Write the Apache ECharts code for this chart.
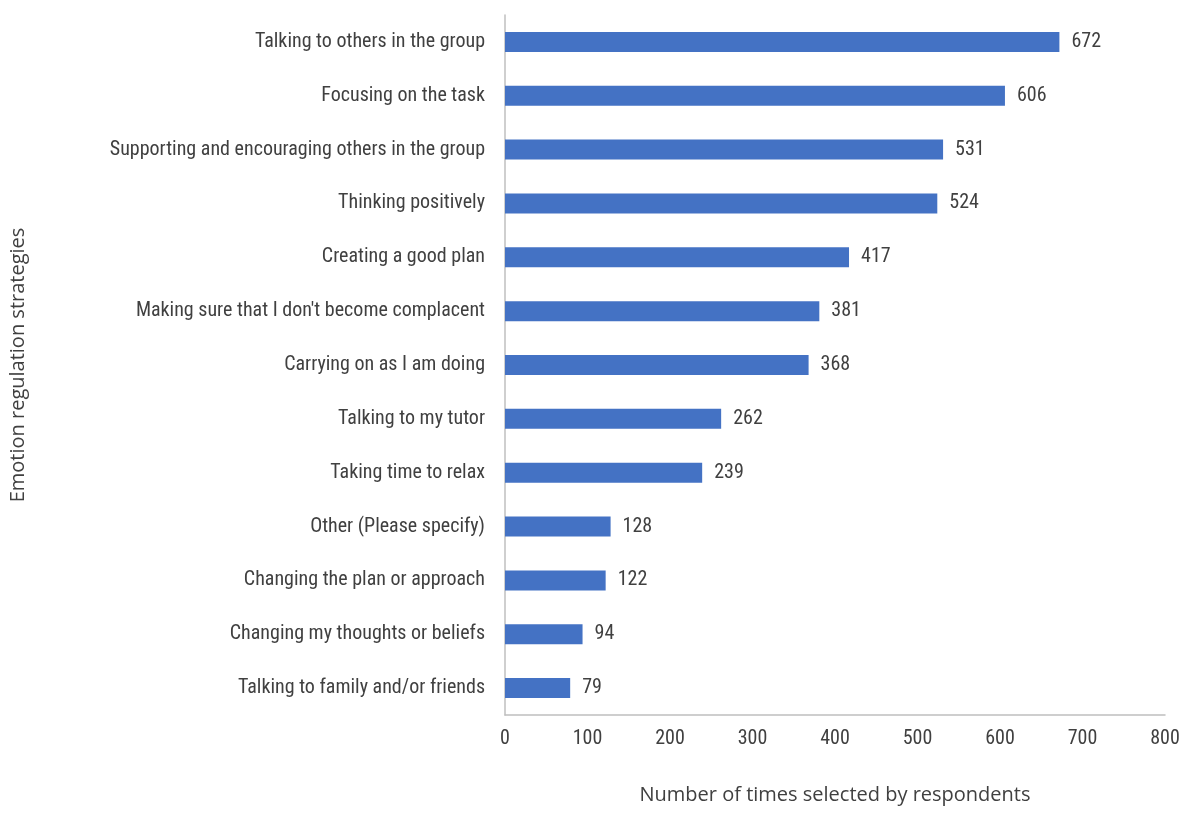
<!DOCTYPE html>
<html><head><meta charset="utf-8">
<script src="https://cdn.jsdelivr.net/npm/echarts@6/dist/echarts.min.js"></script>
<style>html,body{margin:0;background:#fff}#c{width:1200px;height:829px}</style>
</head><body><div id="c"></div>
<script>
const categories = ["Talking to others in the group","Focusing on the task","Supporting and encouraging others in the group","Thinking positively","Creating a good plan","Making sure that I don't become complacent","Carrying on as I am doing","Talking to my tutor","Taking time to relax","Other (Please specify)","Changing the plan or approach","Changing my thoughts or beliefs","Talking to family and/or friends"];
const values = [672,606,531,524,417,381,368,262,239,128,122,94,79];
const xTicks = [0,100,200,300,400,500,600,700,800];
const font = "'Liberation Sans Narrow','Arial Narrow','Roboto Condensed',sans-serif";
const chart = echarts.init(document.getElementById('c'));
chart.setOption({
  animation:false,
  grid:{left:505,right:35,top:15,bottom:114},
  xAxis:{type:'value',min:xTicks[0],max:xTicks[xTicks.length-1],interval:100,
    axisLine:{show:true,lineStyle:{color:'#bfbfbf',width:1.5}},axisTick:{show:false},splitLine:{show:false},
    axisLabel:{color:'#404040',fontSize:20,fontFamily:font,margin:14},
    name:'Number of times selected by respondents',nameLocation:'middle',nameGap:70,
    nameTextStyle:{color:'#404040',fontSize:20,fontFamily:"'Open Sans',sans-serif"}},
  yAxis:{type:'category',data:categories,inverse:true,
    axisLine:{show:true,lineStyle:{color:'#bfbfbf',width:1.5}},axisTick:{show:false},
    axisLabel:{color:'#404040',fontSize:20,fontFamily:font,margin:20},
    name:'Emotion regulation strategies',nameLocation:'middle',nameGap:477,nameRotate:90,
    nameTextStyle:{color:'#404040',fontSize:20,fontFamily:"'Open Sans',sans-serif"}},
  series:[{type:'bar',data:values,barWidth:20,itemStyle:{color:'#4472C4'},
    label:{show:true,position:'right',distance:12,color:'#404040',fontSize:20,fontFamily:font}}]
});
</script></body></html>
